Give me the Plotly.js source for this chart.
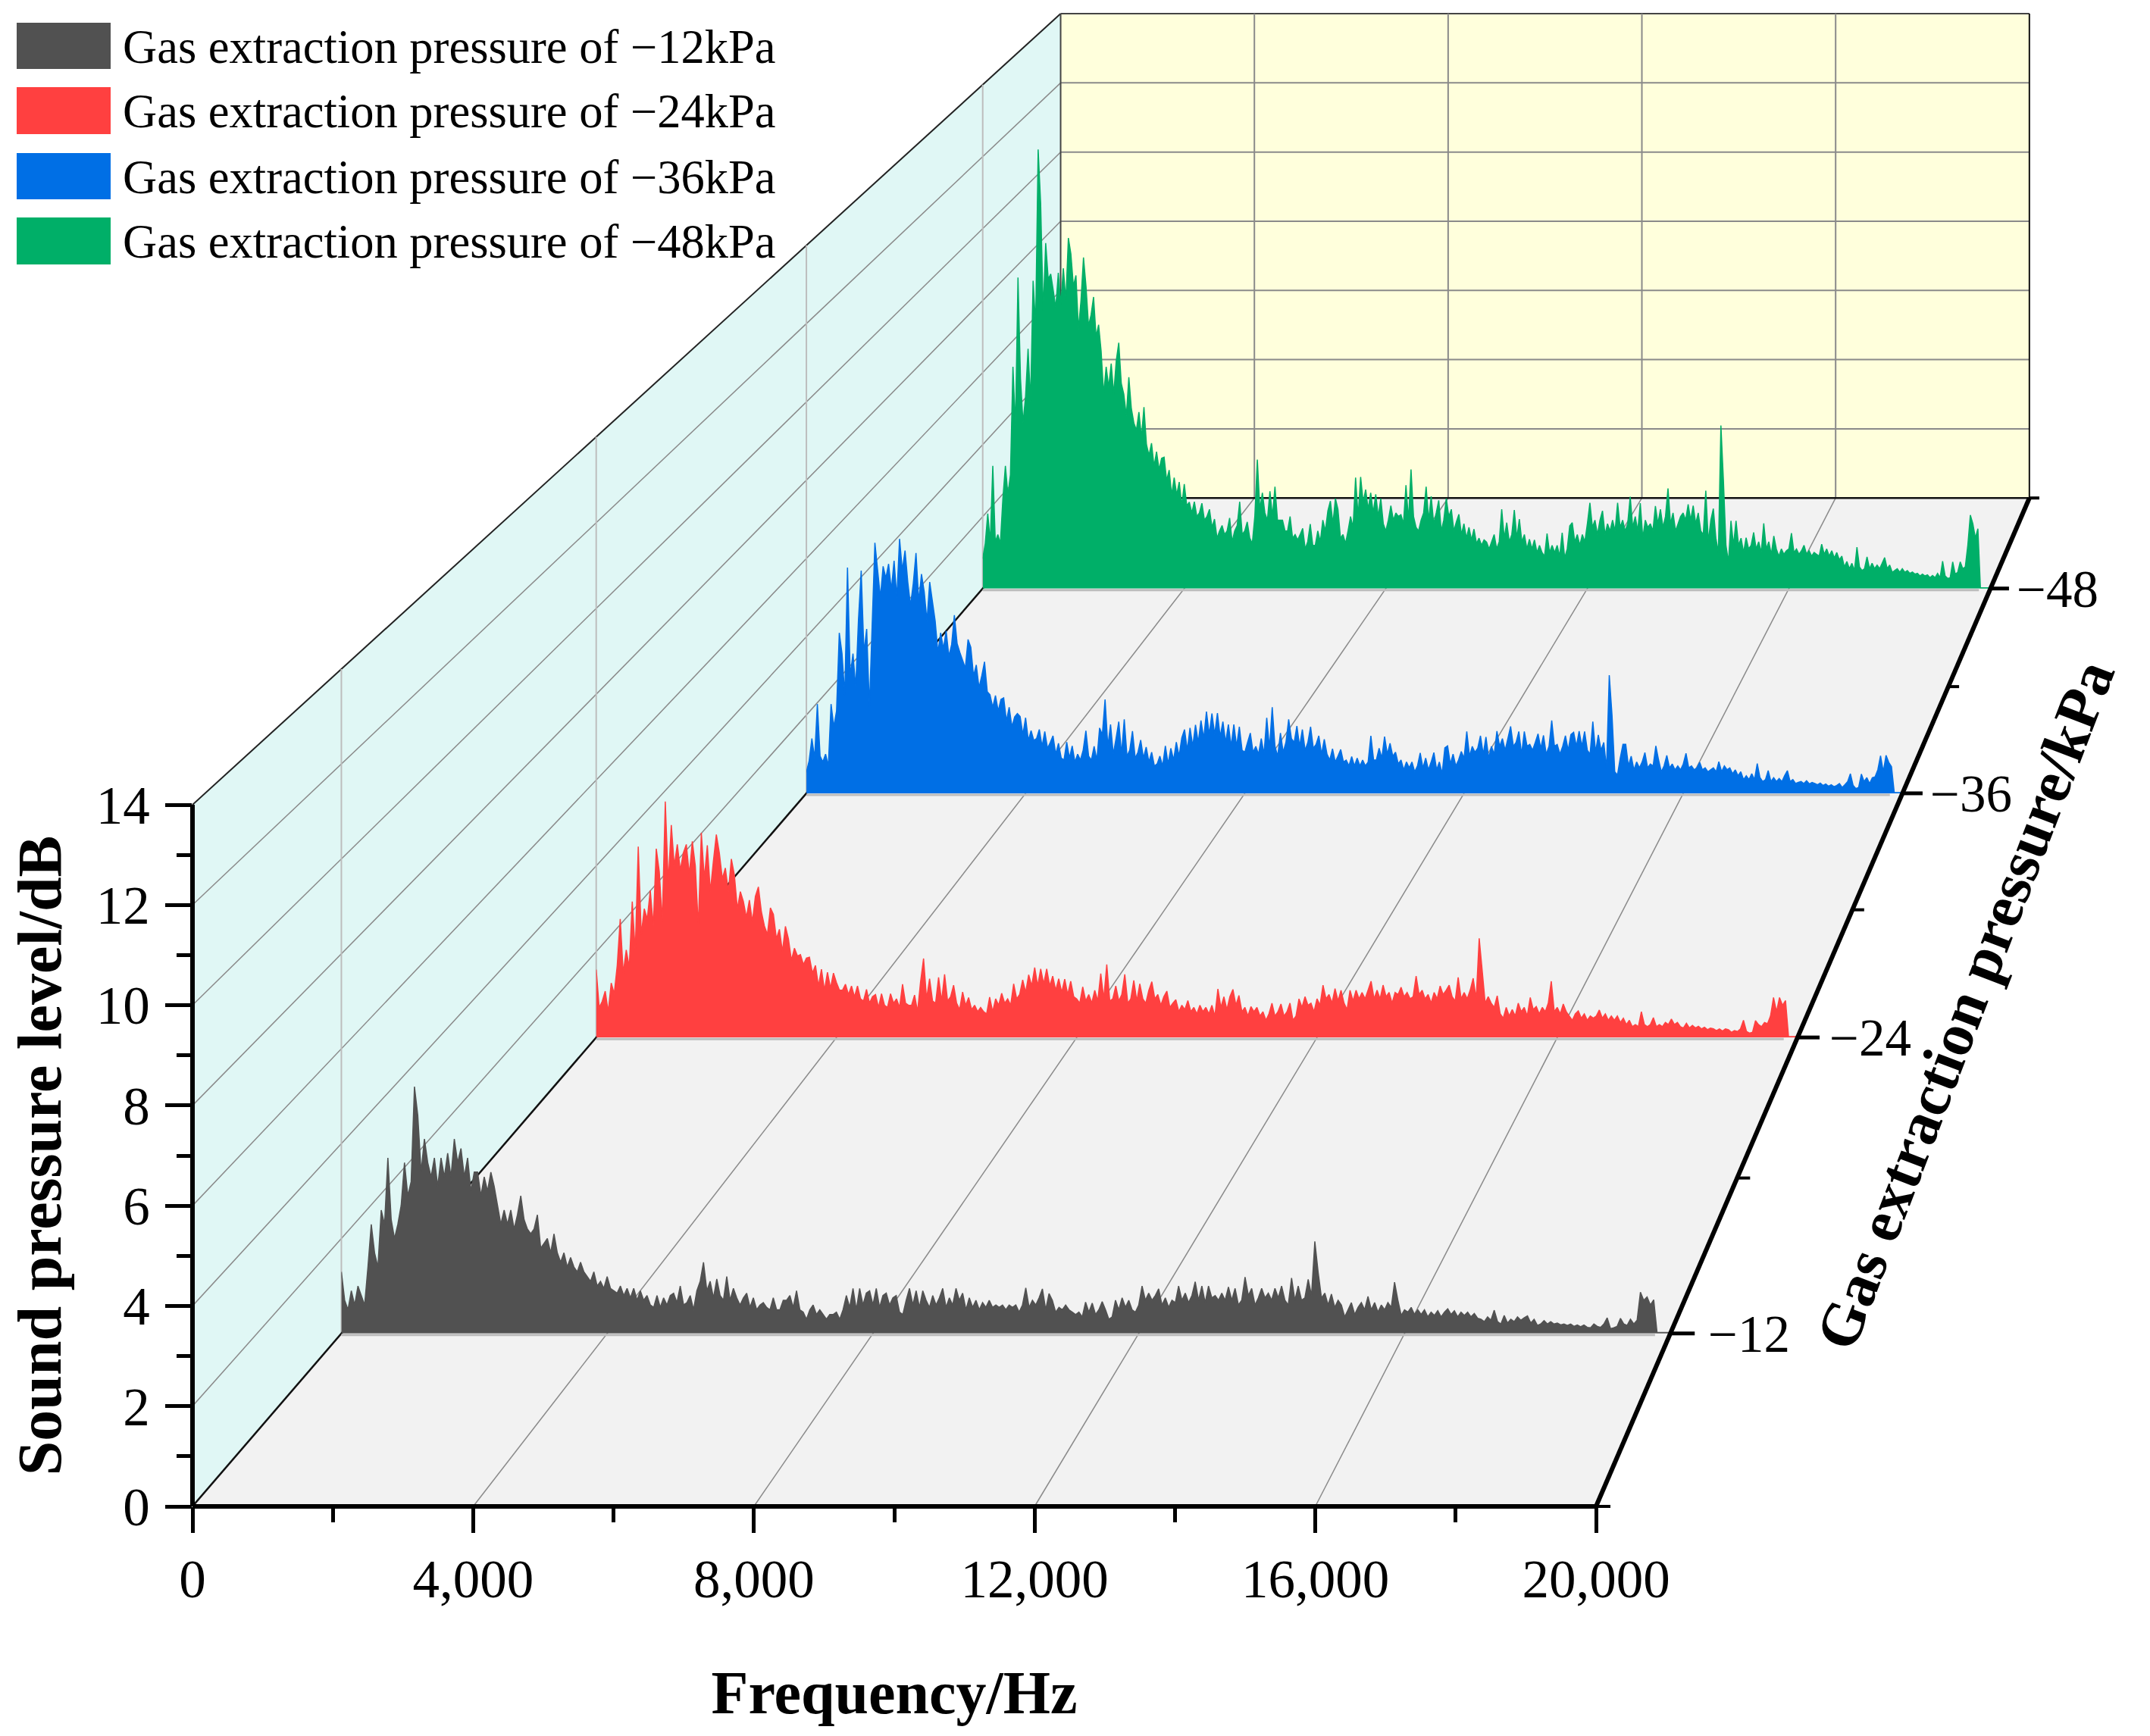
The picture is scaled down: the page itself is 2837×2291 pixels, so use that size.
<!DOCTYPE html>
<html><head><meta charset="utf-8">
<script src="https://cdn.plot.ly/plotly-3.0.1.min.js"></script>
<style>html,body{margin:0;padding:0;background:#fff}</style></head>
<body><div id="chart" style="width:2837px;height:2291px"></div>
<script>
// Sound pressure level (dB), sampled every 50 Hz from 0 to 20,000 Hz
const freqStepHz = 50;
const level12 = [1.3,.7,.5,.9,.6,1.0,.8,.6,1.4,2.3,1.7,1.4,2.6,2.3,3.7,2.4,2.0,2.3,2.7,3.6,2.9,3.2,5.2,4.6,3.4,4.1,3.6,3.3,3.7,3.1,3.7,3.3,3.8,3.3,4.1,3.6,3.9,3.3,3.7,3.0,3.4,3.4,2.9,3.3,3.0,3.4,3.1,2.7,2.3,2.6,2.3,2.6,2.2,2.5,2.9,2.4,2.2,2.1,2.2,2.5,1.8,1.9,2.0,1.7,2.1,1.7,1.5,1.7,1.4,1.6,1.4,1.3,1.5,1.3,1.2,1.1,1.3,1.0,1.1,.95,1.2,.95,.9,.85,1.0,.8,.95,.75,.95,.7,.9,.7,.8,.6,.55,.8,.55,.75,.6,.8,.85,.65,1.0,.6,.65,.8,.5,.9,1.1,1.5,.9,1.1,.75,1.15,.8,.7,1.2,.7,.95,.75,.6,.75,.85,.55,.75,.5,.6,.65,.55,.5,.75,.5,.5,.7,.7,.8,.55,.9,.5,.45,.3,.5,.6,.4,.5,.4,.3,.4,.4,.45,.3,.5,.8,.55,.95,.5,.95,.6,.85,.9,.6,.95,.55,.8,.85,.6,.75,.8,.45,.4,.7,.95,.6,.9,.55,.9,.7,.55,.8,.6,.75,.95,.55,.75,.6,.95,.7,.85,.5,.75,.55,.7,.5,.65,.55,.7,.55,.6,.55,.6,.5,.6,.55,.6,.45,.6,.96,.55,.7,.6,.75,.94,.5,.84,.7,.45,.55,.5,.6,.5,.45,.4,.45,.35,.66,.45,.64,.4,.5,.67,.5,.3,.35,.7,.5,.75,.55,.7,.5,.45,.6,1.0,.7,.85,.7,.8,.94,.6,.75,.55,.7,.65,1.0,.7,.85,.65,.8,1.09,.7,1.0,.65,1.0,.75,.8,.7,.85,.7,.98,.7,.95,.6,.7,1.19,.8,.95,.6,.75,.95,.75,.85,.7,.95,.75,1.0,.7,.6,1.17,.7,1.0,.7,.75,1.14,.8,1.94,1.29,.75,.85,.6,.83,.55,.7,.6,.35,.5,.65,.4,.55,.65,.5,.78,.5,.65,.45,.6,.5,.65,.55,1.08,.7,.38,.5,.45,.55,.4,.5,.4,.5,.35,.45,.38,.48,.35,.45,.52,.4,.48,.35,.45,.38,.45,.35,.42,.32,.3,.25,.35,.28,.49,.25,.2,.38,.22,.3,.25,.35,.28,.33,.37,.22,.3,.17,.2,.27,.2,.25,.2,.22,.18,.2,.17,.2,.15,.18,.14,.18,.13,.12,.2,.15,.13,.2,.33,.1,.12,.15,.32,.2,.17,.3,.2,.28,.87,.7,.77,.6,.71,.02,.02,.02,.02,.02];
const level24 = [1.58,.7,.84,1.08,.6,1.27,1.02,1.68,2.76,1.5,2.04,1.64,3.17,2.0,4.45,2.4,3.0,2.76,3.43,2.6,4.4,3.87,2.7,5.5,3.6,4.95,4.0,4.5,3.9,4.3,4.5,3.8,4.57,4.0,2.58,4.77,3.7,4.48,3.4,4.1,4.73,4.3,3.7,3.95,3.4,4.16,3.79,3.0,3.4,3.17,2.8,3.2,2.7,3.29,3.51,2.93,2.6,2.4,3.02,2.87,2.3,2.52,2.0,2.59,2.3,1.8,2.08,1.9,1.93,1.7,1.85,1.87,1.5,1.68,1.2,1.59,1.1,1.52,1.15,1.5,1.28,1.1,1.1,1.24,1.0,1.2,.95,1.2,.9,.85,1.12,.8,.95,1.0,.7,1.02,.75,.7,1.02,.8,.9,.7,1.24,.8,.75,.75,.99,.6,1.3,1.84,.9,1.37,.85,.8,1.4,.85,1.47,.85,.95,1.22,.8,.65,1.06,.75,.93,.65,.75,.6,.7,.6,.55,.94,.6,.9,.75,1.03,.8,.9,.75,1.25,.9,1.0,1.34,1.05,1.46,1.2,1.63,1.2,1.6,1.25,1.6,1.2,1.43,1.1,1.37,1.05,1.36,1.0,1.31,.95,.9,.8,1.18,.85,1.0,.8,1.1,.85,1.49,.9,1.7,.85,.9,1.2,.85,1.0,1.47,.8,.9,1.33,.85,1.25,.9,.8,1.1,1.3,.9,1.0,.75,.95,1.08,.7,.8,.88,.6,.75,.65,.86,.6,.7,.55,.75,.6,.7,.55,.75,.5,1.13,.7,.95,.65,.95,1.12,.75,.98,.6,.7,.5,.72,.6,.7,.5,.6,.4,.55,.8,.5,.6,.78,.5,.6,.8,.4,.5,.9,.7,.95,.75,.8,.6,.9,.75,1.22,.9,1.0,.8,1.14,.85,1.1,.8,.65,1.1,.85,1.1,.9,1.05,.9,1.1,1.31,.9,1.1,.9,1.22,.95,1.05,.8,1.05,1.0,1.17,.95,1.05,.9,.95,1.43,1.0,1.1,.9,1.0,.8,1.05,.9,1.2,1.0,1.1,1.22,.95,.85,1.4,.9,1.05,.9,1.1,1.38,.9,2.31,1.56,.8,.95,.8,.7,.97,.55,.45,.7,.5,.65,.5,.8,.6,.7,.5,.93,.65,.72,.55,.7,.6,.8,1.31,.6,.7,.55,.78,.6,.5,.4,.55,.62,.45,.55,.4,.5,.45,.5,.64,.45,.55,.4,.5,.4,.5,.35,.45,.3,.4,.25,.3,.25,.6,.3,.25,.3,.46,.25,.3,.25,.35,.3,.43,.3,.35,.25,.22,.33,.22,.28,.22,.26,.2,.24,.18,.22,.2,.16,.2,.15,.2,.18,.12,.16,.14,.2,.4,.14,.1,.12,.39,.3,.25,.35,.32,.5,.93,.6,.93,.75,.86,.02,.02,.02,.02];
const level36 = [.54,.83,1.4,.9,2.28,.95,.8,1.0,.7,2.28,1.7,2.1,4.1,3.57,2.5,5.77,3.0,3.57,2.7,4.43,5.69,3.6,4.2,2.2,4.3,6.4,5.7,5.0,5.8,5.5,5.86,5.2,5.94,5.0,6.5,5.7,6.2,5.4,4.8,5.36,6.14,4.9,5.6,5.15,4.4,5.4,4.9,4.4,3.6,4.1,3.7,4.15,3.5,3.8,4.55,3.83,3.6,3.4,3.2,3.93,3.73,3.0,3.28,2.7,3.0,3.36,2.6,2.52,2.2,2.5,2.1,2.4,2.44,1.85,2.2,1.7,1.95,2.04,1.96,1.5,1.93,1.35,1.6,1.35,1.4,1.63,1.2,1.58,1.15,1.3,1.47,1.0,1.28,.9,.85,1.31,.9,1.21,.8,1.0,.85,1.1,1.6,.95,.85,1.2,.85,1.67,1.5,2.4,1.2,1.76,1.0,1.4,1.83,1.0,1.89,.95,1.1,1.59,.9,1.05,1.36,.9,1.18,.8,1.05,.7,.75,.95,.7,1.21,.75,1.15,.85,1.31,.95,1.42,1.63,1.1,1.67,1.2,1.75,1.3,1.86,1.4,2.09,1.5,2.04,1.5,2.05,1.45,1.83,1.3,1.76,1.2,1.76,1.2,1.7,1.1,1.05,1.3,1.54,1.05,1.2,1.0,1.4,1.0,1.93,1.15,2.2,1.2,.95,1.54,1.05,1.3,1.89,1.4,1.3,1.72,1.2,1.63,1.1,1.3,1.7,1.15,1.25,1.47,1.0,1.38,1.0,.85,1.14,.8,.95,1.12,.8,.85,.7,.94,.7,.9,.7,.85,.7,.8,1.47,.85,.85,1.15,.9,1.45,1.0,1.28,.95,1.05,.75,.85,.6,.8,.65,.8,.55,.7,1.03,.65,.9,.6,.8,1.04,.6,.8,.5,1.16,1.21,.75,1.0,.7,.85,1.07,.9,1.58,.95,1.2,1.05,1.15,1.47,1.0,1.44,.9,1.2,1.0,1.59,1.2,1.4,1.1,1.4,1.71,1.2,1.3,1.58,1.0,1.58,1.2,1.25,1.1,1.3,1.52,1.15,1.48,1.0,1.2,1.86,1.2,1.25,1.0,1.2,1.47,1.1,1.5,1.56,1.2,1.59,1.2,1.58,1.1,1.0,1.83,1.05,1.49,1.1,1.3,.63,3.02,2.0,.55,.47,.9,1.25,1.25,.7,.95,.6,.8,.65,.8,1.04,.65,.75,.7,1.21,.85,.55,.7,.97,.65,.75,.6,.7,.6,.75,1.02,.65,.7,.6,.65,.79,.6,.65,.55,.6,.65,.55,.81,.55,.7,.6,.65,.5,.6,.45,.55,.35,.45,.35,.5,.35,.76,.4,.3,.35,.58,.3,.4,.3,.38,.3,.45,.58,.3,.35,.25,.28,.3,.25,.32,.24,.28,.25,.22,.26,.2,.24,.18,.22,.17,.2,.25,.15,.22,.3,.5,.2,.12,.15,.49,.3,.4,.25,.4,.42,.6,.96,.55,.97,.79,.68,.02,.02,.02,.02];
const level48 = [.83,1.25,2.08,1.3,3.41,1.3,1.5,1.25,2.5,3.41,2.6,3.16,6.16,4.5,8.64,5.83,4.6,5.33,6.66,5.2,8.55,7.33,12.2,10.7,7.7,9.6,8.6,8.74,8.28,7.8,8.77,7.9,8.9,8.0,9.74,9.3,8.4,8.7,7.2,8.0,9.2,8.4,7.3,7.6,8.1,7.0,7.33,6.6,5.4,6.16,5.6,6.25,5.4,6.33,6.83,5.7,5.4,4.8,5.87,5.0,4.6,4.4,4.9,4.2,5.04,4.0,3.7,4.04,3.4,3.8,3.3,3.62,3.65,3.0,3.29,2.6,3.08,2.6,2.96,2.3,2.9,2.3,2.4,2.1,2.41,2.0,2.1,2.37,1.9,2.0,2.2,1.7,1.93,1.4,1.6,1.75,1.5,1.6,1.96,1.3,1.6,1.75,2.41,1.5,1.6,1.85,1.4,1.25,2.0,3.58,2.2,2.66,2.1,1.9,2.7,2.0,2.83,1.9,1.9,1.9,1.6,1.6,2.0,1.4,1.5,1.35,1.5,1.67,1.1,1.3,1.79,1.2,1.2,1.6,1.3,1.9,1.6,2.16,2.43,1.8,2.5,2.2,1.4,1.5,1.25,1.6,2.0,1.7,3.08,2.0,3.1,2.4,2.75,2.2,2.66,2.1,2.62,2.0,2.5,1.8,1.6,1.9,2.3,1.9,2.1,2.0,2.05,1.8,2.87,1.9,3.31,2.0,1.7,1.6,1.9,2.1,2.83,1.9,2.56,1.8,2.1,2.45,1.6,1.9,2.5,2.0,2.2,1.6,1.85,2.06,1.5,1.8,1.4,1.7,1.35,1.65,1.25,1.4,1.2,1.35,1.29,1.1,1.3,1.5,1.1,1.3,2.2,1.4,1.83,1.3,1.5,2.18,1.4,1.93,1.3,1.5,1.1,1.37,1.1,1.35,1.0,1.2,1.0,.9,1.53,1.0,1.2,1.0,1.2,.9,1.55,.85,1.1,1.74,1.83,1.3,1.5,1.2,1.5,1.3,1.8,2.38,1.7,1.9,1.5,1.9,2.16,1.5,1.8,1.6,1.9,1.6,2.38,1.7,1.9,1.6,1.8,2.55,1.7,2.0,1.6,2.37,1.4,1.9,1.7,1.8,1.6,2.29,1.8,2.2,1.7,2.0,2.78,1.8,2.1,1.6,1.8,2.0,2.1,1.9,2.34,1.9,2.3,1.8,2.1,1.6,1.5,2.72,1.3,1.9,2.22,1.4,1.0,4.53,3.0,1.2,.74,1.88,1.2,1.88,1.2,1.4,1.0,1.41,1.1,1.2,1.56,1.1,1.3,1.0,1.81,1.1,1.3,.95,1.46,1.1,.9,1.1,.95,1.05,1.1,1.54,1.0,1.1,.95,1.05,1.2,.95,1.05,.9,1.0,.95,.9,1.23,.95,1.1,.9,1.05,.85,1.0,.8,.9,.6,.75,.55,.7,.5,1.15,.6,.5,.55,.88,.55,.7,.55,.65,.55,.7,.86,.55,.65,.45,.5,.55,.45,.55,.45,.5,.42,.46,.4,.42,.35,.4,.35,.38,.3,.36,.3,.42,.3,.76,.35,.28,.3,.74,.4,.45,.74,.55,.6,1.2,2.04,1.8,1.4,1.66,.02,.02,.02,.02,.02];

const seriesNames = ['Gas extraction pressure of \u221212kPa','Gas extraction pressure of \u221224kPa','Gas extraction pressure of \u221236kPa','Gas extraction pressure of \u221248kPa'];
const seriesDepths = [-12,-24,-36,-48];
const seriesColors = ['#515151','#FF4040','#006FE5','#00AF68'];
const seriesLevels = [level12,level24,level36,level48];
const depthTickLabels = ['\u221212','\u221224','\u221236','\u221248'];
const depthLabelGaps = [16,11,8,8];
const depthMinorTicks = [-6,-18,-30,-42,-54];
const freqGridHz = [0,4000,8000,12000,16000,20000];
const levelGridDb = [0,2,4,6,8,10,12,14];

const W = 2837, H = 2291, SERIF = '"Liberation Serif","Times New Roman",serif';
// Perspective box: front plane in pixels, vanishing point, depth rate
const FX0 = 254, FX1 = 2106, FY0 = 1988, FY14 = 1062, VX = 3952, VY = -2308, K = 0.00935;
const scaleAt = z => 1 / (1 + K * (-z - 6));
const px = (f, z, L) => { const s = scaleAt(z); return [VX + s * (FX0 + f / 20000 * (FX1 - FX0) - VX), VY + s * (FY0 - L / 14 * (FY0 - FY14) - VY)]; };
const nx = x => x / W, ny = y => 1 - y / H;
const line = (a, b, color, width, layer, dash) => ({type:'line', xref:'paper', yref:'paper', x0:nx(a[0]), y0:ny(a[1]), x1:nx(b[0]), y1:ny(b[1]), layer:layer||'below', line:{color, width, dash:dash||'solid'}});
const poly = (pts, fill) => ({type:'path', xref:'paper', yref:'paper', layer:'below', fillcolor:fill, line:{width:0},
  path:'M' + pts.map(p => nx(p[0]) + ' ' + ny(p[1])).join(' L') + ' Z'});
const FMAX = 20000, ZF = -6, ZB = -54;

const shapes = [
  poly([px(0,ZF,0),px(FMAX,ZF,0),px(FMAX,ZB,0),px(0,ZB,0)], '#F2F2F2'),
  poly([px(0,ZF,0),px(0,ZF,14),px(0,ZB,14),px(0,ZB,0)], '#E0F7F5'),
  poly([px(0,ZB,0),px(FMAX,ZB,0),px(FMAX,ZB,14),px(0,ZB,14)], '#FFFFDC')
];
levelGridDb.slice(1).forEach(L => {
  shapes.push(line(px(0,ZF,L), px(0,ZB,L), L===14?'#222':'#8a8a8a', L===14?2:1.5));
  shapes.push(line(px(0,ZB,L), px(FMAX,ZB,L), L===14?'#444':'#8a8a8a', 2));
});
freqGridHz.slice(1,-1).forEach(f => {
  shapes.push(line(px(f,ZF,0), px(f,ZB,0), '#8a8a8a', 1.5));
  shapes.push(line(px(f,ZB,0), px(f,ZB,14), '#8a8a8a', 2));
});
seriesDepths.forEach(z => shapes.push(line(px(0,z,0), px(0,z,14), '#BDBDBD', 2)));
shapes.push(line(px(0,ZB,0), px(0,ZB,14), '#444', 2));
shapes.push(line(px(FMAX,ZB,0), px(FMAX,ZB,14), '#111', 2));
shapes.push(line(px(0,ZF,0), px(0,ZB,0), '#111', 2.5));
shapes.push(line(px(0,ZB,0), px(FMAX,ZB,0), '#111', 2.5));
seriesDepths.forEach(z => { const a = px(0,z,0), b = px(19770,z,0); shapes.push(line([a[0],a[1]+2],[b[0],b[1]+2],'#BDBDBD',3)); });

// Front axis lines, depth axis and its ticks
const BLACK = '#000';
shapes.push(line(px(0,ZF,0), px(FMAX,ZF,0), BLACK, 6, 'above'));
shapes.push(line(px(0,ZF,0), px(0,ZF,14), BLACK, 6, 'above'));
shapes.push(line(px(FMAX,ZF,0), px(FMAX,ZB,0), BLACK, 6, 'above'));
seriesDepths.forEach(z => { const a = px(FMAX,z,0); shapes.push(line(a, [a[0] + 34*scaleAt(z), a[1]], BLACK, 5, 'above')); });
depthMinorTicks.forEach(z => { const a = px(FMAX,z,0); shapes.push(line(a, [a[0] + 19*scaleAt(z), a[1]], BLACK, 4, 'above')); });

// Legend swatches and text
const annotations = [];
const legendTop = [30,115,202,287], legendBottom = [91,177,263,349];
seriesNames.forEach((name,i) => {
  shapes.push({type:'rect', xref:'paper', yref:'paper', layer:'above', x0:nx(22), x1:nx(146), y0:ny(legendTop[i]), y1:ny(legendBottom[i]), fillcolor:seriesColors[i], line:{width:0}});
  annotations.push({xref:'paper', yref:'paper', x:nx(160), y:ny((legendTop[i]+legendBottom[i])/2+1), xanchor:'left', yanchor:'middle', showarrow:false, text:name, font:{family:SERIF, size:62.5, color:'#000'}});
});
seriesDepths.forEach((z,i) => {
  const a = px(FMAX,z,0);
  annotations.push({xref:'paper', yref:'paper', x:nx(a[0] + 34*scaleAt(z) + depthLabelGaps[i]), y:ny(a[1]+1), xanchor:'left', yanchor:'middle', showarrow:false, text:depthTickLabels[i], font:{family:SERIF, size:69, color:'#000'}});
});
annotations.push({xref:'paper', yref:'paper', x:nx(2593), y:ny(1326), xanchor:'center', yanchor:'middle', showarrow:false, textangle:-69, text:'<b>Gas extraction pressure/kPa</b>', font:{family:SERIF, size:80, color:'#000'}});

// One subplot per pressure, placed in the perspective box, back to front
const traces = [{x:[0,FMAX], y:[0,14], mode:'none', xaxis:'x', yaxis:'y', hoverinfo:'skip', showlegend:false}];
const layout = {
  width:W, height:H, margin:{l:0,r:0,t:0,b:0,pad:0}, paper_bgcolor:'#fff', plot_bgcolor:'rgba(0,0,0,0)', showlegend:false, shapes, annotations, hovermode:false,
  xaxis:{domain:[nx(FX0),nx(FX1)], range:[0,FMAX], anchor:'y', showgrid:false, zeroline:false, showline:false, ticks:'outside', tickmode:'array', tickvals:freqGridHz, ticktext:freqGridHz.map(v=>v.toLocaleString('en-US')), ticklen:34, tickwidth:5, tickcolor:BLACK, ticklabelstandoff:0,
    minor:{tickmode:'array', tickvals:[2000,6000,10000,14000,18000], ticks:'outside', ticklen:20, tickwidth:5, tickcolor:BLACK, showgrid:false},
    tickfont:{family:SERIF, size:71, color:'#000'}, title:{text:'<b>Frequency/Hz</b>', standoff:82, font:{family:SERIF, size:80, color:'#000'}}},
  yaxis:{domain:[ny(FY0),ny(FY14)], range:[0,14], anchor:'x', showgrid:false, zeroline:false, showline:false, ticks:'outside', tickmode:'array', tickvals:levelGridDb, ticklen:35, tickwidth:5, tickcolor:BLACK, ticklabelstandoff:6,
    minor:{tickmode:'array', tickvals:[1,3,5,7,9,11,13], ticks:'outside', ticklen:20, tickwidth:5, tickcolor:BLACK, showgrid:false},
    tickfont:{family:SERIF, size:71, color:'#000'}, title:{text:'<b>Sound pressure level/dB</b>', standoff:19, font:{family:SERIF, size:82, color:'#000'}}}
};
[3,2,1,0].forEach((s,n) => {
  const id = n + 2, z = seriesDepths[s];
  const a = px(0,z,0), b = px(FMAX,z,14);
  layout['xaxis'+id] = {domain:[nx(a[0]),nx(b[0])], range:[0,FMAX], anchor:'y'+id, visible:false, fixedrange:true};
  layout['yaxis'+id] = {domain:[ny(a[1]),ny(b[1])], range:[0,14], anchor:'x'+id, visible:false, fixedrange:true};
  traces.push({type:'scatter', mode:'lines', name:seriesNames[s], xaxis:'x'+id, yaxis:'y'+id, x:seriesLevels[s].map((_,i)=>i*freqStepHz), y:seriesLevels[s], fill:'tozeroy', fillcolor:seriesColors[s], line:{color:seriesColors[s], width:1.5, simplify:false}, hoverinfo:'skip'});
});
Plotly.newPlot('chart', traces, layout, {displayModeBar:false, staticPlot:true});
</script></body></html>
